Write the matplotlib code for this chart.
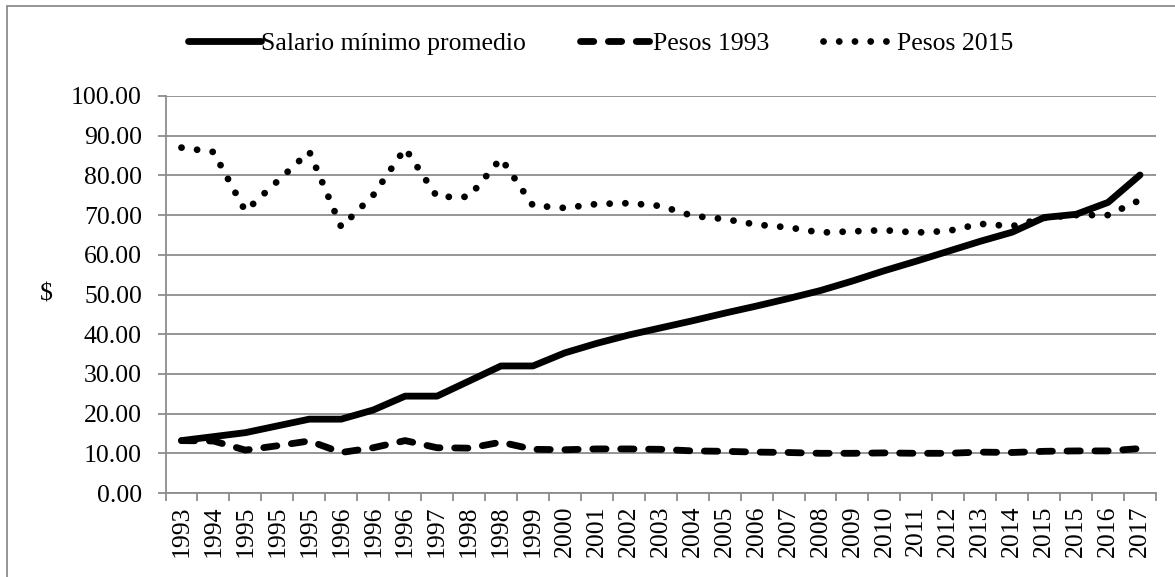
import numpy as np
import matplotlib
matplotlib.use("Agg")
import matplotlib.pyplot as plt
from matplotlib.patches import Rectangle

plt.rcParams['font.family'] = ['Liberation Serif', 'DejaVu Serif']

# etiquetas del eje x (tal como aparecen en la gráfica)
periodos = ['1993', '1994', '1995', '1995', '1995', '1996', '1996', '1996', '1997',
            '1998', '1998', '1999', '2000', '2001', '2002', '2003', '2004', '2005',
            '2006', '2007', '2008', '2009', '2010', '2011', '2012', '2013', '2014',
            '2015', '2015', '2016', '2017']

salario_promedio = [13.2, 14.2, 15.2, 16.9, 18.6, 18.6, 20.9, 24.4, 24.4, 28.2,
                    32.0, 32.0, 35.3, 37.7, 39.8, 41.6, 43.4, 45.3, 47.1, 49.0,
                    51.0, 53.4, 56.0, 58.4, 60.9, 63.4, 65.7, 69.4, 70.2, 73.2, 80.1]

pesos_1993 = [13.2, 13.1, 10.8, 11.9, 13.1, 10.2, 11.4, 13.2, 11.4, 11.3,
              12.8, 11.0, 10.9, 11.1, 11.1, 11.0, 10.6, 10.5, 10.3, 10.2,
              10.0, 10.0, 10.1, 10.0, 10.0, 10.3, 10.2, 10.5, 10.6, 10.6, 11.2]

pesos_2015 = [87.0, 85.9, 71.0, 78.5, 86.0, 67.0, 75.0, 86.8, 74.6, 74.6,
              84.3, 72.4, 71.8, 72.8, 73.0, 72.3, 69.8, 69.0, 67.6, 66.9,
              65.6, 65.9, 66.2, 65.6, 66.0, 67.8, 67.2, 69.3, 70.0, 70.0, 73.8]

W, H = 1175, 577
fig = plt.figure(figsize=(W / 100, H / 100), dpi=100)
ax = fig.add_axes([165.5 / W, 1 - 493 / H, (1156 - 165.5) / W, (493 - 96) / H])

gris = '#8c8c8c'
x = np.arange(len(periodos))
lw = 4.9

ax.plot(x, salario_promedio, color='black', lw=lw, solid_capstyle='round',
        solid_joinstyle='round', label='Salario mínimo promedio', zorder=3)
ax.plot(x, pesos_1993, color='black', lw=lw, linestyle=(0, (1.95, 2.15)),
        dash_capstyle='round', label='Pesos 1993', zorder=3)
ax.plot(x, pesos_2015, color='black', lw=lw, linestyle=(0, (0.01, 2.3)),
        dash_capstyle='round', label='Pesos 2015', zorder=3)

ax.set_ylim(0, 100)
ax.set_yticks(np.arange(0, 101, 10))
ax.set_yticklabels([f'{v:.2f}' for v in np.arange(0, 101, 10)])
ax.set_xlim(-0.5, len(periodos) - 0.5)
ax.set_xticks(np.arange(-0.5, len(periodos), 1))
ax.set_xticklabels([])
ax.set_xticks(x, minor=True)
ax.set_xticklabels(periodos, minor=True, rotation=90)

ax.tick_params(axis='y', which='major', length=6, width=1.3, color=gris,
               labelsize=18.5, pad=11)
ax.tick_params(axis='x', which='major', length=6, width=1.3, color=gris)
ax.tick_params(axis='x', which='minor', length=0, labelsize=18.5, pad=9)

ax.grid(axis='y', color=gris, lw=1.3)
ax.set_axisbelow(True)
for s in ['top', 'right']:
    ax.spines[s].set_visible(False)
for s in ['left', 'bottom']:
    ax.spines[s].set_color(gris)
    ax.spines[s].set_linewidth(1.3)

ax.set_ylabel('$', fontsize=18.5, rotation=0, va='center')
ax.yaxis.set_label_coords(-0.12, 0.5)

fig.legend(loc='center', bbox_to_anchor=(0.511, 1 - 44 / H), ncol=3,
           frameon=False, fontsize=18.5, handlelength=2.85, handletextpad=0.0,
           columnspacing=2.1)

# borde del área del gráfico
fig.patches.append(Rectangle((6.7 / W, -0.1), 1.2, 1 - 5.7 / H + 0.1,
                             transform=fig.transFigure, fill=False,
                             edgecolor=gris, lw=1.3))

fig.savefig('out.png', dpi=100)
